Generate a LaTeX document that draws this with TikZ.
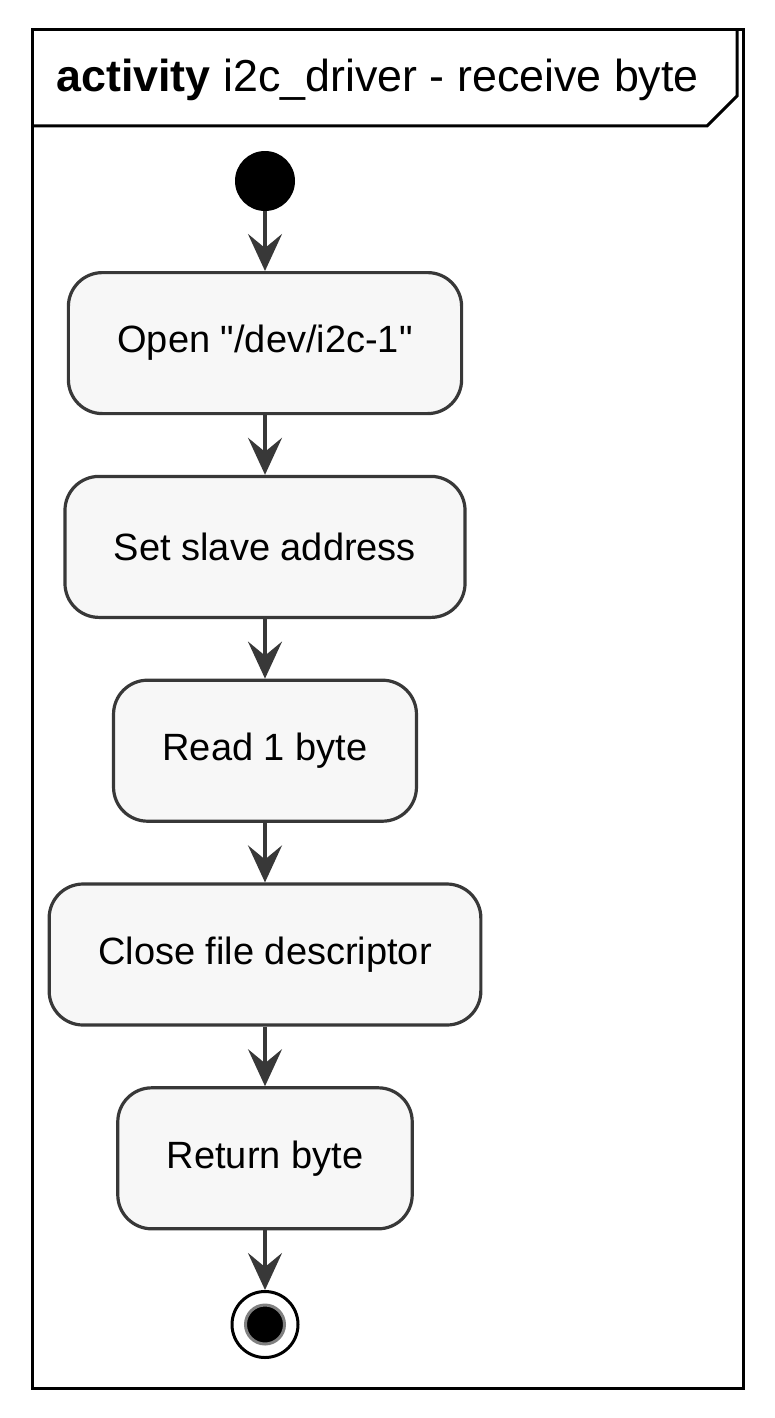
\documentclass[tikz,border=0pt]{standalone}
\usepackage{fontspec}
\setmainfont{Liberation Sans}[Ligatures = TeXOff]
\usetikzlibrary{positioning, arrows.meta}
\definecolor{umlline}{HTML}{383838}
\definecolor{umlfill}{HTML}{F7F7F7}

\begin{document}
\begin{tikzpicture}[x = 0.5pt, y = -0.5pt, node distance = 29.8pt,
    action/.style = {shape = rectangle, rounded corners = 17pt, draw = umlline, fill = umlfill,
        line width = 1.6pt, minimum height = 70.5pt, inner xsep = 24.5pt,
        font = \fontsize{19}{23}\selectfont},
    flow/.style = {draw = umlline, line width = 1.6pt,
        -{Stealth[length = 18.5pt, width = 17pt, inset = 7pt]}}]
    \useasboundingbox (0,0) rectangle (775,1418);
    \draw[line width = 1.5pt] (32,30) rectangle (743,1388);
    \draw[line width = 1.5pt] (32,126) -- (707,126) -- (737,96) -- (737,30);
    \node[anchor = west, inner sep = 0pt, font = \fontsize{22.4}{26}\selectfont] (title) at (56,80)
        {\textbf{activity} i2c\_driver - receive byte};
    \node[shape = circle, fill = black, minimum size = 30pt, inner sep = 0pt] (start) at (265,181) {};
    \node[action, below = of start] (open) {Open "/dev/i2c-1"};
    \node[action, below = of open] (addr) {Set slave address};
    \node[action, below = of addr] (read) {Read 1 byte};
    \node[action, below = of read] (close) {Close file descriptor};
    \node[action, below = of close] (ret) {Return byte};
    \node[shape = circle, draw = black, fill = white, line width = 1.5pt, minimum size = 33pt,
        inner sep = 0pt, below = of ret] (stop) {};
    \node[shape = circle, draw = gray, fill = black, line width = 1.5pt, minimum size = 19.5pt,
        inner sep = 0pt] (stopdot) at (stop) {};
    \draw[flow] (start) -- (open);
    \draw[flow] (open) -- (addr);
    \draw[flow] (addr) -- (read);
    \draw[flow] (read) -- (close);
    \draw[flow] (close) -- (ret);
    \draw[flow] (ret) -- (stop);
\end{tikzpicture}
\end{document}
